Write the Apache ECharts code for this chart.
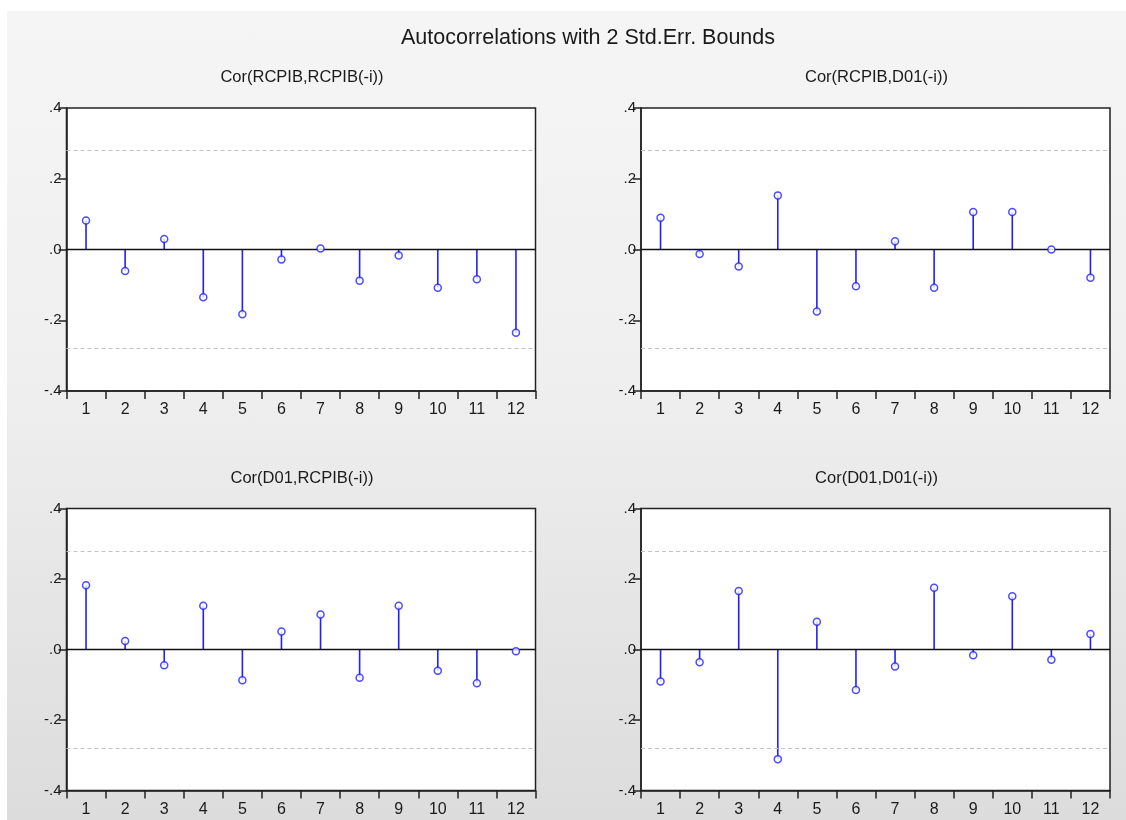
<!DOCTYPE html>
<html>
<head>
<meta charset="utf-8">
<title>Autocorrelations with 2 Std.Err. Bounds</title>
<script src="https://cdn.jsdelivr.net/npm/echarts@6/dist/echarts.min.js"></script>
<style>
  html, body { margin: 0; padding: 0; background: #ffffff; }
  #wrap { position: relative; width: 1126px; height: 820px; overflow: hidden; }
  #panel { position: absolute; left: 7px; top: 11px; right: 0; bottom: 0;
           background: linear-gradient(to bottom, #f5f5f5 0%, #efefef 45%, #dcdcdc 100%); }
  #chart { position: absolute; left: 0; top: 0; width: 1126px; height: 820px; }
</style>
</head>
<body>
<div id="wrap">
  <div id="panel"></div>
  <div id="chart"></div>
</div>
<script>
// Lags shown on every x axis
const lags = ['1', '2', '3', '4', '5', '6', '7', '8', '9', '10', '11', '12'];

// Panel titles
const mainTitle = 'Autocorrelations with 2 Std.Err. Bounds';
const panelTitles = ['Cor(RCPIB,RCPIB(-i))', 'Cor(RCPIB,D01(-i))', 'Cor(D01,RCPIB(-i))', 'Cor(D01,D01(-i))'];

// Correlations by lag
const corRcpibRcpib = [0.082, -0.061, 0.030, -0.135, -0.183, -0.028, 0.003, -0.088, -0.017, -0.108, -0.084, -0.235];
const corRcpibD01   = [0.090, -0.013, -0.048, 0.153, -0.175, -0.104, 0.023, -0.108, 0.106, 0.106, 0.000, -0.080];
const corD01Rcpib   = [0.182, 0.024, -0.045, 0.124, -0.087, 0.051, 0.099, -0.080, 0.124, -0.060, -0.096, -0.005];
const corD01D01     = [-0.091, -0.036, 0.166, -0.311, 0.079, -0.115, -0.048, 0.175, -0.016, 0.151, -0.029, 0.044];

// Two standard error band
const stdErrBound = 0.277;

const panelData = [corRcpibRcpib, corRcpibD01, corD01Rcpib, corD01D01];

const FONT = '"Liberation Sans", Arial, sans-serif';
const TEXT = '#1a1a1a';
const STEM = '#1f1fff';

// Plot box placement for each of the four panels
const boxes = [
  { left: 66.5, top: 108, width: 469, height: 283 },
  { left: 641,  top: 108, width: 469, height: 283 },
  { left: 66.5, top: 508.5, width: 469, height: 282 },
  { left: 641,  top: 508.5, width: 469, height: 282 }
];

function yLabel(v) {
  if (Math.abs(v) < 1e-9) return '.0';
  const s = Math.abs(v).toFixed(1).replace(/^0/, '');
  return (v < 0 ? '-' : '') + s;
}

const grids = [], xAxes = [], yAxes = [], series = [], titles = [];

titles.push({
  text: mainTitle, left: 583, top: 22, textAlign: 'center',
  textStyle: { fontFamily: FONT, fontSize: 21.5, fontWeight: 'normal', color: TEXT }
});

boxes.forEach((b, i) => {
  grids.push({
    left: b.left, top: b.top, width: b.width, height: b.height,
    show: true, backgroundColor: '#ffffff', borderColor: '#222222', borderWidth: 1.5,
    containLabel: false
  });
  titles.push({
    text: panelTitles[i], left: b.left + b.width / 2 - 4, top: b.top - 44, textAlign: 'center',
    textStyle: { fontFamily: FONT, fontSize: 16.5, fontWeight: 'normal', color: TEXT }
  });
  xAxes.push({
    type: 'category', gridIndex: i, data: lags, boundaryGap: true,
    axisLine: { show: true, onZero: false, lineStyle: { color: '#222222', width: 1.5 } },
    axisTick: { show: true, length: 8, inside: false, alignWithLabel: false, lineStyle: { color: '#222222', width: 1.5 } },
    axisLabel: { show: true, interval: 0, margin: 11, fontFamily: FONT, fontSize: 16, color: TEXT },
    splitLine: { show: false }
  });
  yAxes.push({
    type: 'value', gridIndex: i, min: -0.4, max: 0.4, interval: 0.2,
    axisLine: { show: true, lineStyle: { color: '#222222', width: 1.5 } },
    axisTick: { show: true, length: 8, inside: false, lineStyle: { color: '#222222', width: 1.5 } },
    axisLabel: { show: true, margin: 5, fontFamily: FONT, fontSize: 15, color: TEXT, formatter: yLabel },
    splitLine: { show: false }
  });
  // Stems from zero to each correlation, with the zero line and error bounds
  series.push({
    type: 'bar', xAxisIndex: i, yAxisIndex: i, data: panelData[i],
    barWidth: 1.6, itemStyle: { color: STEM }, silent: true, z: 3,
    markLine: {
      silent: true, symbol: 'none', label: { show: false }, animation: false,
      data: [
        { yAxis: stdErrBound, lineStyle: { color: '#c4c4c4', type: [4, 3], width: 1 } },
        { yAxis: -stdErrBound, lineStyle: { color: '#c4c4c4', type: [4, 3], width: 1 } },
        { yAxis: 0, lineStyle: { color: '#111111', type: 'solid', width: 1.3 } }
      ]
    }
  });
  // Open circles at the tips
  series.push({
    type: 'scatter', xAxisIndex: i, yAxisIndex: i, data: panelData[i],
    symbol: 'circle', symbolSize: 7, silent: true, z: 5,
    itemStyle: { color: '#ffffff', borderColor: STEM, borderWidth: 1.5 }
  });
});

const chart = echarts.init(document.getElementById('chart'), null, { renderer: 'canvas' });
chart.setOption({
  backgroundColor: 'transparent',
  animation: false,
  title: titles,
  grid: grids,
  xAxis: xAxes,
  yAxis: yAxes,
  series: series
});
</script>
</body>
</html>
